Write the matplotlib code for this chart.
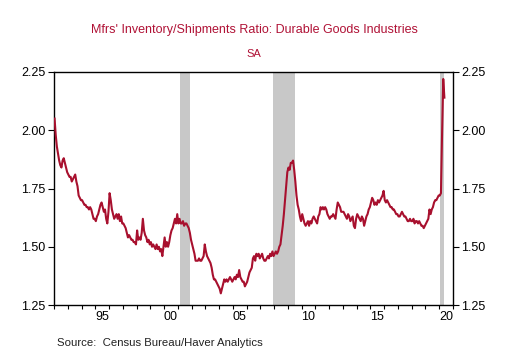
import numpy as np
import matplotlib
matplotlib.use("Agg")
import matplotlib.pyplot as plt
from matplotlib.ticker import FixedLocator, NullFormatter

# DATA ______________________________________________________________________
start_year = 1992
ratio = [
    # 1992
    2.05, 1.98, 1.93, 1.90, 1.87, 1.85, 1.84, 1.87, 1.88, 1.86, 1.84, 1.82,
    # 1993
    1.81, 1.80, 1.80, 1.78, 1.79, 1.80, 1.81, 1.78, 1.76, 1.72, 1.71, 1.70,
    # 1994
    1.70, 1.69, 1.68, 1.68, 1.67, 1.67, 1.66, 1.67, 1.66, 1.64, 1.62, 1.62,
    # 1995
    1.61, 1.63, 1.64, 1.66, 1.68, 1.69, 1.67, 1.65, 1.66, 1.62, 1.60, 1.65,
    # 1996
    1.73, 1.70, 1.66, 1.64, 1.62, 1.63, 1.64, 1.62, 1.64, 1.61, 1.63, 1.60,
    # 1997
    1.60, 1.59, 1.58, 1.56, 1.54, 1.55, 1.54, 1.53, 1.53, 1.52, 1.52, 1.51,
    # 1998
    1.57, 1.53, 1.54, 1.53, 1.56, 1.62, 1.57, 1.55, 1.54, 1.52, 1.53, 1.51,
    # 1999
    1.52, 1.50, 1.51, 1.50, 1.49, 1.51, 1.49, 1.50, 1.48, 1.49, 1.46, 1.50,
    # 2000
    1.54, 1.50, 1.52, 1.50, 1.52, 1.55, 1.57, 1.58, 1.60, 1.62, 1.60, 1.64,
    # 2001
    1.60, 1.62, 1.60, 1.60, 1.61, 1.59, 1.60, 1.60, 1.59, 1.58, 1.56, 1.53,
    # 2002
    1.51, 1.49, 1.47, 1.44, 1.44, 1.44, 1.45, 1.44, 1.44, 1.45, 1.46, 1.51,
    # 2003
    1.48, 1.46, 1.45, 1.44, 1.43, 1.41, 1.38, 1.36, 1.36, 1.35, 1.34, 1.33,
    # 2004
    1.32, 1.30, 1.32, 1.34, 1.36, 1.35, 1.36, 1.35, 1.36, 1.37, 1.36, 1.35,
    # 2005
    1.36, 1.37, 1.36, 1.38, 1.37, 1.40, 1.37, 1.36, 1.35, 1.35, 1.33, 1.34,
    # 2006
    1.35, 1.37, 1.39, 1.40, 1.41, 1.45, 1.46, 1.44, 1.47, 1.46, 1.47, 1.45,
    # 2007
    1.46, 1.47, 1.45, 1.44, 1.44, 1.45, 1.46, 1.45, 1.47, 1.46, 1.48, 1.46,
    # 2008
    1.47, 1.48, 1.47, 1.48, 1.50, 1.51, 1.55, 1.59, 1.64, 1.70, 1.76, 1.82,
    # 2009
    1.84, 1.83, 1.86, 1.86, 1.87, 1.83, 1.78, 1.72, 1.68, 1.66, 1.63, 1.61,
    # 2010
    1.64, 1.62, 1.60, 1.59, 1.60, 1.61, 1.59, 1.61, 1.60, 1.62, 1.63, 1.62,
    # 2011
    1.61, 1.60, 1.63, 1.64, 1.67, 1.66, 1.67, 1.66, 1.67, 1.66, 1.64, 1.63,
    # 2012
    1.62, 1.63, 1.63, 1.64, 1.63, 1.62, 1.66, 1.69, 1.68, 1.67, 1.65, 1.65,
    # 2013
    1.65, 1.64, 1.63, 1.62, 1.64, 1.63, 1.61, 1.62, 1.63, 1.59, 1.58, 1.62,
    # 2014
    1.64, 1.63, 1.62, 1.61, 1.63, 1.62, 1.59, 1.61, 1.63, 1.64, 1.66, 1.67,
    # 2015
    1.69, 1.71, 1.70, 1.68, 1.69, 1.68, 1.70, 1.69, 1.70, 1.71, 1.72, 1.74,
    # 2016
    1.70, 1.69, 1.70, 1.69, 1.68, 1.67, 1.67, 1.66, 1.66, 1.65, 1.64, 1.64,
    # 2017
    1.63, 1.63, 1.64, 1.65, 1.64, 1.63, 1.63, 1.62, 1.61, 1.61, 1.62, 1.61,
    # 2018
    1.61, 1.62, 1.60, 1.61, 1.61, 1.60, 1.61, 1.60, 1.59, 1.59, 1.58, 1.59,
    # 2019
    1.60, 1.61, 1.62, 1.66, 1.64, 1.66, 1.67, 1.69, 1.70, 1.70, 1.71, 1.72,
    # 2020
    1.72, 1.73, 1.99, 2.22, 2.14,
]
# recessions as (start, end) in fractional years
recessions = [(2001 + 2/12, 2001 + 11/12), (2007 + 11/12, 2009 + 6/12), (2020 + 1/12, 2020 + 4/12)]
tick_years = [1995, 2000, 2005, 2010, 2015, 2020]
tick_labels = ["95", "00", "05", "10", "15", "20"]
y_ticks = [1.25, 1.50, 1.75, 2.00, 2.25]
# ____________________________________________________________________________

line_color = "#A8102E"
title_color = "#B01236"
plt.rcParams['font.family'] = ['Liberation Sans', 'DejaVu Sans']

t = start_year + (np.arange(len(ratio)) + 0.5) / 12.0

fig = plt.figure(figsize=(5.08, 3.55), dpi=100)
ax = fig.add_axes([0.1063, 0.1408, 0.7854, 0.6564])

for a, b in recessions:
    ax.axvspan(a, b, color="#C8C8C8", lw=0, zorder=1)

ax.plot(t, ratio, color=line_color, linewidth=1.5, zorder=3)

ax.set_xlim(1992, 2021)
ax.set_ylim(1.25, 2.25)

# yearly ticks at the boundaries, labels mid-year
ax.xaxis.set_major_locator(FixedLocator(np.arange(1992, 2022)))
ax.xaxis.set_major_formatter(NullFormatter())
ax.xaxis.set_minor_locator(FixedLocator([y + 0.5 for y in tick_years]))
ax.set_xticklabels(tick_labels, minor=True)
ax.tick_params(axis='x', which='major', direction='out', length=3, width=0.8)
ax.tick_params(axis='x', which='minor', length=0, pad=4, labelsize=9)

ax.set_yticks(y_ticks)
ax.set_yticklabels([f"{v:.2f}" for v in y_ticks])
ax.tick_params(axis='y', which='major', direction='out', length=4, width=0.8,
               left=True, right=True, labelleft=True, labelright=True, labelsize=9, pad=2)

for s in ax.spines.values():
    s.set_linewidth(1.0)
    s.set_color("black")

fig.text(0.5, 0.915, "Mfrs' Inventory/Shipments Ratio: Durable Goods Industries",
         ha='center', va='center', color=title_color, fontsize=9)
fig.text(0.5, 0.847, "SA", ha='center', va='center', color=title_color, fontsize=8)
fig.text(0.112, 0.02, "Source:  Census Bureau/Haver Analytics", ha='left', va='bottom',
         fontsize=8.2, color="#222222")

fig.savefig("out.png", dpi=100)
